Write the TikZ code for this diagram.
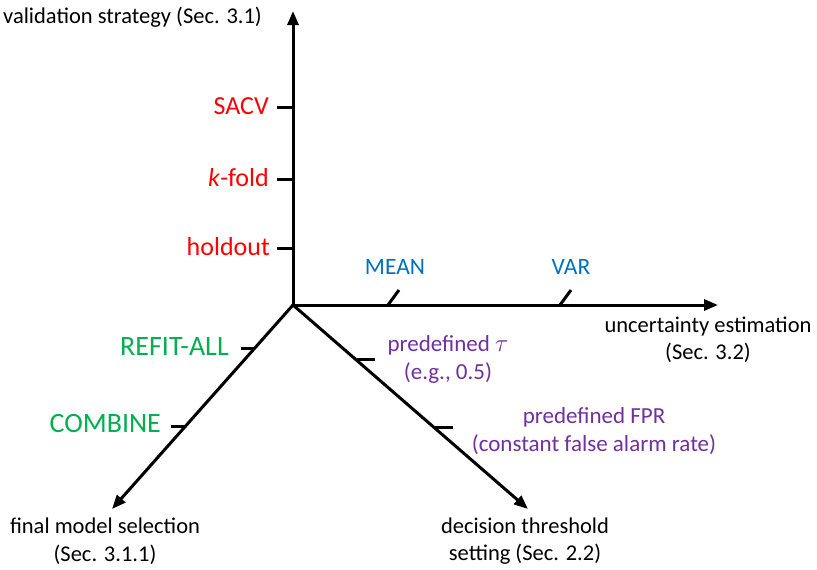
\documentclass[tikz,border=0pt]{standalone}
\usepackage{fontspec}
\setmainfont{Carlito}
\usetikzlibrary{arrows.meta}
\definecolor{cred}{RGB}{255,0,0}
\definecolor{cblue}{RGB}{0,112,192}
\definecolor{cgreen}{RGB}{0,176,80}
\definecolor{cpurple}{RGB}{112,48,160}
\tikzset{
  axis/.style={line width=3pt,-{Triangle[length=14pt,width=11pt]}},
  tick/.style={line width=3pt},
  lbl/.style={font=\fontsize{22.5}{27.5}\selectfont,align=center,inner sep=0pt},
  optr/.style={font=\fontsize{26}{30}\selectfont,inner sep=0pt,text=cred,anchor=east},
  optg/.style={font=\fontsize{28}{32}\selectfont,inner sep=0pt,text=cgreen,anchor=east},
  optb/.style={font=\fontsize{23.5}{28}\selectfont,inner sep=0pt,text=cblue},
  optp/.style={font=\fontsize{23}{28}\selectfont,align=center,inner sep=0pt,text=cpurple},
}
\begin{document}
\begin{tikzpicture}[x=1pt,y=-1pt]
\useasboundingbox (0,0) rectangle (817,570);
\coordinate (O) at (293,305);
\coordinate (Vt) at (293,11);
\coordinate (Ht) at (718,305);
\coordinate (Lt) at (112,509);
\coordinate (Rt) at (528,509);
\draw[axis] (O) -- (Vt);
\draw[axis] (O) -- (Ht);
\draw[axis] (O) -- (Lt);
\draw[axis] (O) -- (Rt);
% vertical ticks
\coordinate (s1) at (293,107); \coordinate (s0) at (277,107);
\coordinate (k1) at (293,179); \coordinate (k0) at (277,179);
\coordinate (h1) at (293,248); \coordinate (h0) at (277,248);
\draw[tick] (s0) -- (s1);
\draw[tick] (k0) -- (k1);
\draw[tick] (h0) -- (h1);
\node[optr] (sacv) at (269,106) {SACV};
\node[optr] (kfold) at (269,178) {\textit{k}-fold};
\node[optr] (hold) at (270,247) {holdout};
% horizontal ticks
\coordinate (m0) at (388,305); \coordinate (m1) at (399,290);
\coordinate (v0) at (560,305); \coordinate (v1) at (571,290);
\draw[tick] (m0) -- (m1);
\draw[tick] (v0) -- (v1);
\node[optb] (mean) at (395,267) {MEAN};
\node[optb] (var) at (571,267) {VAR};
% down-left ticks
\coordinate (r1) at (255,348); \coordinate (r0) at (241,348);
\coordinate (c1) at (186,426); \coordinate (c0) at (171,426);
\draw[tick] (r0) -- (r1);
\draw[tick] (c0) -- (c1);
\node[optg] (refit) at (229,347) {REFIT-ALL};
\node[optg] (comb) at (161,424) {COMBINE};
% down-right ticks
\coordinate (t0) at (357,359); \coordinate (t1) at (375,359);
\coordinate (f0) at (435,427); \coordinate (f1) at (453,427);
\draw[tick] (t0) -- (t1);
\draw[tick] (f0) -- (f1);
\node[optp] (tau) at (448,359) {predefined $\tau$\\(e.g., 0.5)};
\node[optp] (fpr) at (594,431) {predefined FPR\\(constant false alarm rate)};
% axis labels
\node[lbl,anchor=west] (vlab) at (3,17) {validation strategy (Sec. 3.1)};
\node[lbl] (hlab) at (708,340) {uncertainty estimation\\(Sec. 3.2)};
\node[lbl] (llab) at (105,541) {final model selection\\(Sec. 3.1.1)};
\node[lbl] (rlab) at (525,541) {decision threshold\\setting (Sec. 2.2)};
\end{tikzpicture}
\end{document}
